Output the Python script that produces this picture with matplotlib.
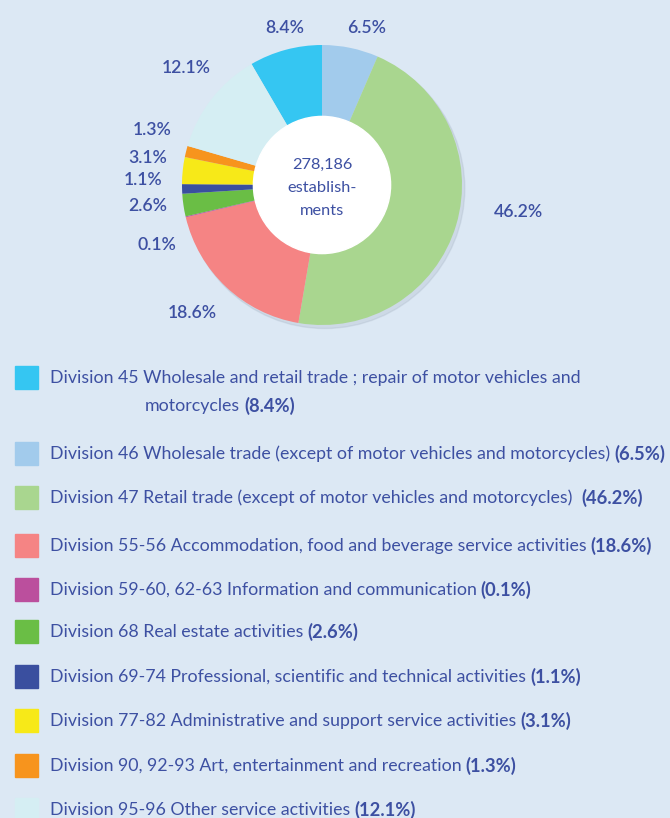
import matplotlib.pyplot as plt
from matplotlib.patches import Circle, Rectangle

# legend order (pie goes clockwise from 12 o'clock starting with Division 46,
# Division 45 ends the circle)
names = [
    "Division 45 Wholesale and retail trade ; repair of motor vehicles and\nmotorcycles",
    "Division 46 Wholesale trade (except of motor vehicles and motorcycles)",
    "Division 47 Retail trade (except of motor vehicles and motorcycles) ",
    "Division 55-56 Accommodation, food and beverage service activities",
    "Division 59-60, 62-63 Information and communication",
    "Division 68 Real estate activities",
    "Division 69-74 Professional, scientific and technical activities",
    "Division 77-82 Administrative and support service activities",
    "Division 90, 92-93 Art, entertainment and recreation",
    "Division 95-96 Other service activities",
]
shares = [8.4, 6.5, 46.2, 18.6, 0.1, 2.6, 1.1, 3.1, 1.3, 12.1]
colors = ["#35c6f2", "#a2cbec", "#a9d68f", "#f58484", "#bb4f9d",
          "#6abe45", "#3a4f9f", "#f7e918", "#f7941d", "#d5eef3"]
total = "278,186"

BG = "#dce8f4"
TXT = "#3d50a2"
FONT = "Lato"

W, H = 670, 818
fig = plt.figure(figsize=(W / 100, H / 100), dpi=100, facecolor=BG)


def px(x, y):
    return x / W, 1 - y / H


# donut
cx, cy, r = 322, 185, 140
ax = fig.add_axes([(cx - r) / W, (H - cy - r) / H, 2 * r / W, 2 * r / H])
ax.set_facecolor("none")
ax.add_patch(Circle((0.02, -0.025), 1.0, color="#9aa8b8", alpha=0.22,
                    zorder=0, clip_on=False))
wedges, _ = ax.pie(shares, colors=colors, startangle=90 + shares[0] * 3.6,
                   counterclock=False, radius=1.0,
                   wedgeprops=dict(width=1.0, linewidth=0))
for w in wedges:
    w.set_clip_on(False)
ax.add_patch(Circle((0, 0), 0.49, color="white", zorder=5))
ax.text(0, -0.02, total + "\nestablish-\nments", ha="center", va="center",
        fontsize=11.8, color=TXT, family=FONT, linespacing=1.85, zorder=6)
ax.set_xlim(-1.0, 1.0)
ax.set_ylim(-1.0, 1.0)
ax.set_aspect("equal")
ax.axis("off")

# percent labels around the donut (pixel positions, text centre)
label_pos = [(285, 28), (367, 28), (518, 212), (192, 313), (157, 245),
             (148, 206), (143, 180), (148, 158), (152, 130), (186, 68)]
for v, (x, y) in zip(shares, label_pos):
    fig.text(*px(x, y), f"{v}%", ha="center", va="center", fontsize=12.7,
             color=TXT, family=FONT, fontweight="semibold")

# legend
row_y = [378, 454, 498, 546, 590, 632, 677, 721, 766, 810]
renderer = fig.canvas.get_renderer()
for name, v, c, y in zip(names, shares, colors, row_y):
    fig.patches.append(Rectangle(px(15, y + 11), 23 / W, 23 / H,
                                 transform=fig.transFigure, color=c,
                                 figure=fig))
    lines = name.split("\n")
    t = None
    for i, line in enumerate(lines):
        ly = y + 28 * i
        lx = 50 if i == 0 else 145
        t = fig.text(*px(lx, ly), line, ha="left", va="center",
                     fontsize=12.8, color=TXT, family=FONT)
    bb = t.get_window_extent(renderer)
    fig.text(bb.x1 / W + 4 / W, t.get_position()[1], f"({v}%)", ha="left",
             va="center", fontsize=13.2, color=TXT, family=FONT,
             fontweight="bold")

fig.savefig("out.png", dpi=100, facecolor=BG)
